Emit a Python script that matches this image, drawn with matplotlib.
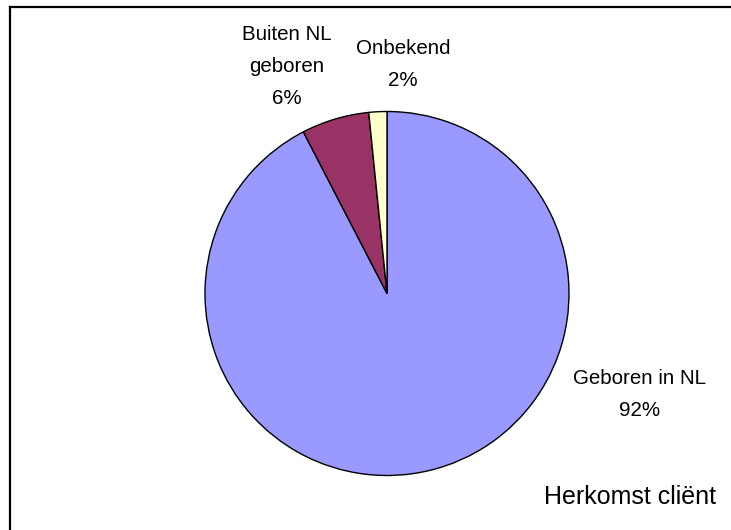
import matplotlib
matplotlib.use("Agg")
import matplotlib.pyplot as plt
from matplotlib.lines import Line2D

categories = ["Geboren in NL", "Buiten NL\ngeboren", "Onbekend"]
values = [92.4, 6.0, 1.6]
colors = ["#9999FF", "#993366", "#FFFFCC"]
title = "Herkomst cliënt"

plt.rcParams['font.family'] = ['Liberation Sans', 'DejaVu Sans']

W, H = 731, 530
fig = plt.figure(figsize=(W / 100, H / 100), dpi=100)
fig.patch.set_facecolor("white")

cx, cy, r = 387, 293.5, 182
ax = fig.add_axes([(cx - r) / W, 1 - (cy + r) / H, 2 * r / W, 2 * r / H])
ax.pie(values, colors=colors, startangle=90, counterclock=False,
       wedgeprops=dict(edgecolor="black", linewidth=1.0))
ax.set_xlim(-1, 1)
ax.set_ylim(-1, 1)
ax.set_aspect("equal")
ax.axis("off")

label_pos = [(1.385, -0.555), (-0.549, 1.247), (0.088, 1.258)]
total = sum(values)
for cat, v, (lx, ly) in zip(categories, values, label_pos):
    ax.text(lx, ly, f"{cat}\n{round(v / total * 100):.0f}%", ha="center", va="center",
            fontsize=14.8, linespacing=1.88, clip_on=False)

fig.text(716 / W, 1 - 504 / H, title, ha="right", va="baseline", fontsize=18)

fig.add_artist(Line2D([10 / W, 10 / W], [0, 1 - 7 / H], transform=fig.transFigure,
                      color="black", linewidth=1.6, solid_capstyle="projecting"))
fig.add_artist(Line2D([10 / W, 1], [1 - 7 / H, 1 - 7 / H], transform=fig.transFigure,
                      color="black", linewidth=1.6, solid_capstyle="projecting"))

fig.savefig("out.png", dpi=100, facecolor="white")
